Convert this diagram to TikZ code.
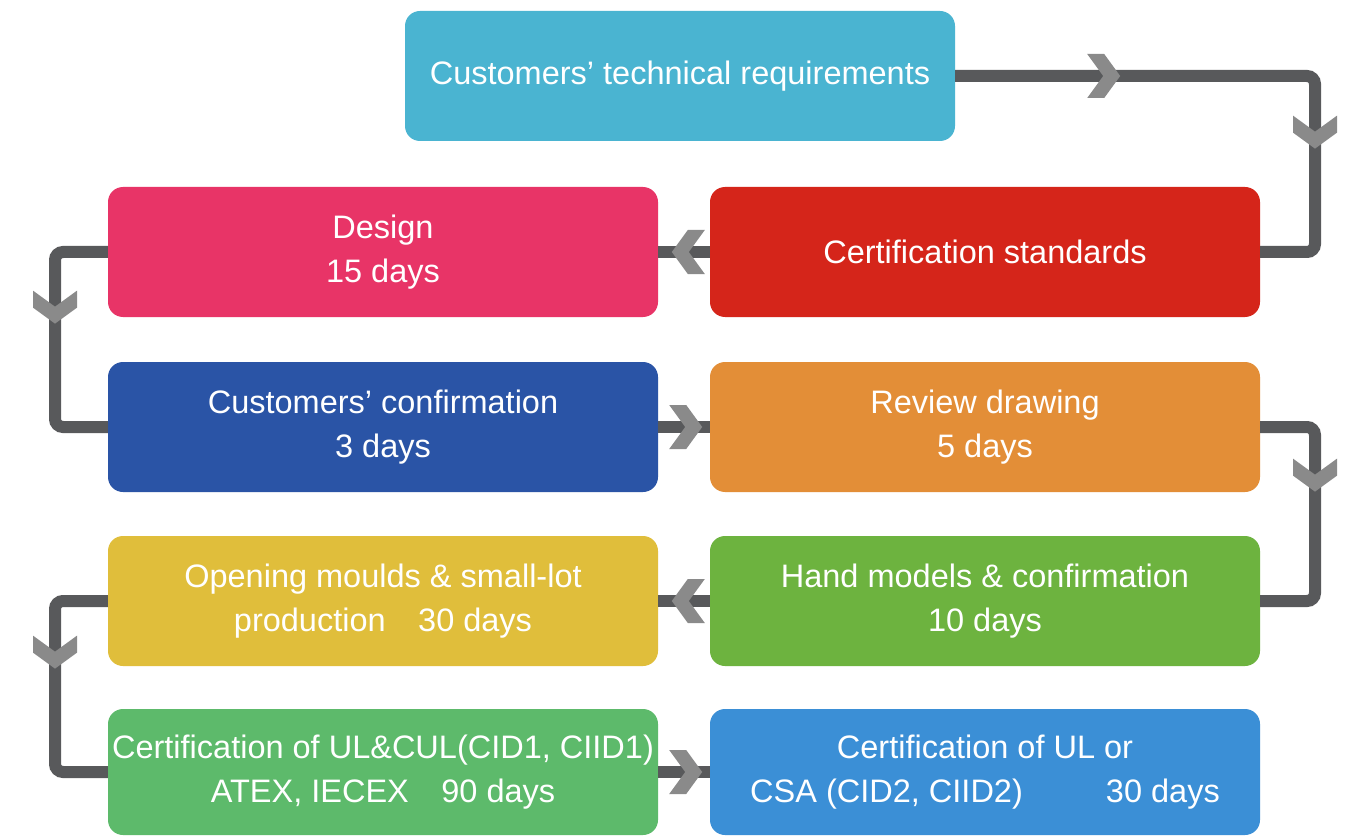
\documentclass[tikz,border=0pt]{standalone}
\usepackage{fontspec}
\setmainfont{Liberation Sans}
\usetikzlibrary{decorations.markings}
\definecolor{cTop}{HTML}{4AB4D1}
\definecolor{cStd}{HTML}{D5251A}
\definecolor{cDes}{HTML}{E83467}
\definecolor{cConf}{HTML}{2A54A6}
\definecolor{cRev}{HTML}{E38E37}
\definecolor{cHand}{HTML}{6DB33F}
\definecolor{cOpen}{HTML}{E0BE3B}
\definecolor{cUL}{HTML}{5DBA6B}
\definecolor{cCSA}{HTML}{3B8FD6}
\definecolor{cLine}{HTML}{58595B}
\definecolor{cChev}{HTML}{8A8A8A}
\newcommand\chevshape{\fill[cChev, sharp corners] (-33pt,-22pt) -- (-16pt,-22pt) -- (0pt,0pt) -- (-16pt,22pt) -- (-33pt,22pt) -- (-17pt,0pt) -- cycle;}
\tikzset{
  box/.style={rounded corners=15pt, minimum width=550pt, minimum height=130pt, inner sep=0pt,
    text=white, align=center, font=\fontsize{32.5}{44}\selectfont},
  link/.style={draw=cLine, line width=12pt, rounded corners=8pt},
  chevat/.style={postaction={decorate, decoration={markings, mark=at position #1 with {\chevshape}}}},
  chevat2/.style 2 args={postaction={decorate, decoration={markings,
      mark=at position #1 with {\chevshape}, mark=at position #2 with {\chevshape}}}}
}
\begin{document}
\begin{tikzpicture}[x=1pt,y=-1pt]
\useasboundingbox (0,0) rectangle (1347,837);
\fill[white] (0,0) rectangle (1347,837);
\coordinate (R) at (1315,0);
\coordinate (L) at (55,0);
\node[box, fill=cTop] (top) at (680,76) {Customers’ technical requirements};
\node[box, fill=cStd] (std) at (985,252) {Certification standards};
\node[box, fill=cDes] (des) at (383,252) {Design\\15 days};
\node[box, fill=cConf] (conf) at (383,427) {Customers’ confirmation\\3 days};
\node[box, fill=cRev] (rev) at (985,427) {Review drawing\\5 days};
\node[box, fill=cHand] (hand) at (985,601) {Hand models \& confirmation\\10 days};
\node[box, fill=cOpen] (open) at (383,601) {Opening moulds \& small-lot\\production\quad 30 days};
\node[box, fill=cUL, minimum height=126pt] (ul) at (383,772) {Certification of UL\&CUL(CID1, CIID1)\\ATEX, IECEX\quad 90 days};
\node[box, fill=cCSA, minimum height=126pt] (csa) at (985,772) {Certification of UL or\\CSA (CID2, CIID2)\qquad\ \ 30 days};
% connectors
\draw[link, chevat2={165pt}{429pt}] (top.east) -- (top.east -| R) -- (std.east -| R) -- (std.east);
\draw[link, chevat={38pt}] (std.west) -- (des.east);
\draw[link, chevat={121pt}] (des.west) -- (des.west -| L) -- (conf.west -| L) -- (conf.west);
\draw[link, chevat={44pt}] (conf.east) -- (rev.west);
\draw[link, chevat={116pt}] (rev.east) -- (rev.east -| R) -- (hand.east -| R) -- (hand.east);
\draw[link, chevat={38pt}] (hand.west) -- (open.east);
\draw[link, chevat={117pt}] (open.west) -- (open.west -| L) -- (ul.west -| L) -- (ul.west);
\draw[link, chevat={44pt}] (ul.east) -- (csa.west);
\end{tikzpicture}
\end{document}
